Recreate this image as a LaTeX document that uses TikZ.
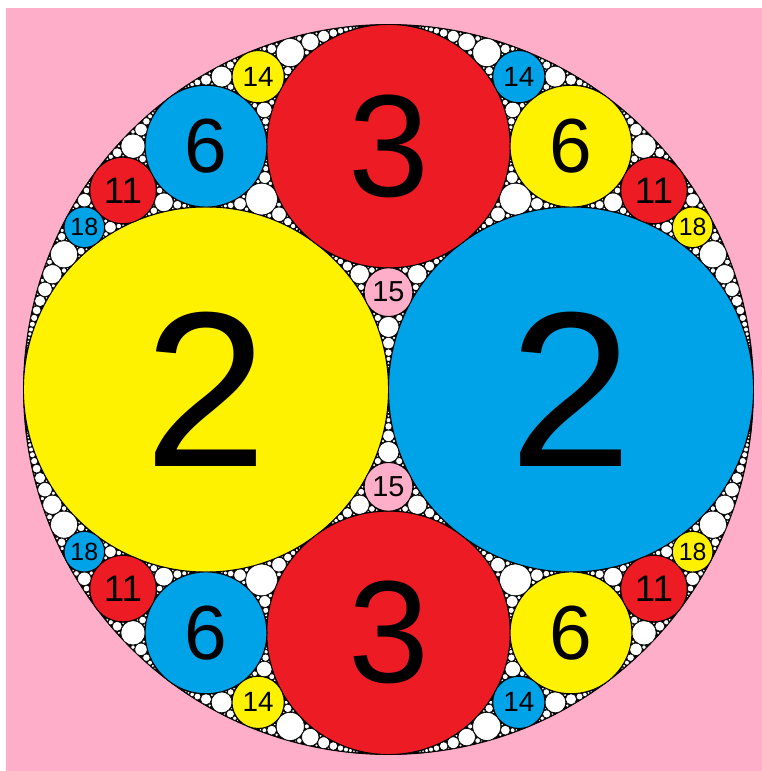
\documentclass[tikz,border=0pt]{standalone}
\usepackage{fontspec}
\setmainfont{Liberation Sans}
\usepackage{tikz}
\definecolor{paintred}{HTML}{ED1C24}
\definecolor{paintyellow}{HTML}{FFF200}
\definecolor{paintblue}{HTML}{00A2E8}
\definecolor{paintpink}{HTML}{FFAEC9}
\tikzset{
  gap/.style={fill=white,draw=black,line width=0.6bp},
  ring/.style={draw=black,line width=0.9bp},
  num/.style={inner sep=0pt,text=black}
}
\def\R{365}
\def\kmax{300}
% circles are kept as k,k*x,k*y (all integers here)
\def\apsum#1,#2,#3;#4,#5,#6;#7,#8,#9;{%
  \edef\ask{\the\numexpr(#1)+(#4)+(#7)\relax}%
  \edef\asx{\the\numexpr(#2)+(#5)+(#8)\relax}%
  \edef\asy{\the\numexpr(#3)+(#6)+(#9)\relax}}
\def\apnew#1,#2,#3;{%
  \edef\ank{\the\numexpr2*\ask-(#1)\relax}%
  \edef\anx{\the\numexpr2*\asx-(#2)\relax}%
  \edef\any{\the\numexpr2*\asy-(#3)\relax}}
\newcommand{\gasket}[4]{%
  \apsum#1;#2;#3;%
  \apnew#4;%
  \ifnum\ank>\kmax\else
    \filldraw[gap] ({\anx/\ank*\R},{\any/\ank*\R}) circle ({\R/\ank});
    \edef\apc{\ank,\anx,\any}%
    \edef\apnext{\noexpand\gasket{#1}{#2}{\apc}{#3}%
      \noexpand\gasket{#1}{#3}{\apc}{#2}%
      \noexpand\gasket{#2}{#3}{\apc}{#1}}%
    \apnext
  \fi}
\newcommand{\disc}[6]{%
  \filldraw[ring,fill=#4] ({#2/#1*\R},{#3/#1*\R}) circle ({\R/#1});
  \node[num,font=\fontsize{#5}{#5}\selectfont] (#6) at ({#2/#1*\R},{#3/#1*\R}) {#1};}

\begin{document}
\begin{tikzpicture}[x=1bp,y=1bp]
\useasboundingbox (-388.5,-381.5) rectangle (373.5,389.5);
\fill[white] (-388.5,-381.5) rectangle (373.5,389.5);
\fill[paintpink] (-382.5,-381.5) rectangle (373.5,381.5);
\filldraw[ring,fill=black] (0,0) circle (\R);
% the white packing
\gasket{-1,0,0}{2,-1,0}{2,1,0}{3,0,2}
\gasket{-1,0,0}{2,-1,0}{3,0,2}{2,1,0}
\gasket{-1,0,0}{2,1,0}{3,0,2}{2,-1,0}
\gasket{2,-1,0}{2,1,0}{3,0,2}{-1,0,0}
% coloured circles
\disc{2}{-1}{0}{paintyellow}{222}{twoL}
\disc{2}{1}{0}{paintblue}{222}{twoR}
\disc{3}{0}{2}{paintred}{146}{threeT}
\disc{3}{0}{-2}{paintred}{146}{threeB}
\disc{6}{-3}{4}{paintblue}{77}{sixTL}
\disc{6}{3}{4}{paintyellow}{77}{sixTR}
\disc{6}{-3}{-4}{paintblue}{77}{sixBL}
\disc{6}{3}{-4}{paintyellow}{77}{sixBR}
\disc{11}{-8}{6}{paintred}{37}{elevenTL}
\disc{11}{8}{6}{paintred}{37}{elevenTR}
\disc{11}{-8}{-6}{paintred}{37}{elevenBL}
\disc{11}{8}{-6}{paintred}{37}{elevenBR}
\disc{14}{-5}{12}{paintyellow}{28}{fourteenTL}
\disc{14}{5}{12}{paintblue}{28}{fourteenTR}
\disc{14}{-5}{-12}{paintyellow}{28}{fourteenBL}
\disc{14}{5}{-12}{paintblue}{28}{fourteenBR}
\disc{15}{0}{4}{paintpink}{29}{fifteenT}
\disc{15}{0}{-4}{paintpink}{29}{fifteenB}
\disc{18}{-15}{8}{paintblue}{25}{eighteenTL}
\disc{18}{15}{8}{paintyellow}{25}{eighteenTR}
\disc{18}{-15}{-8}{paintblue}{25}{eighteenBL}
\disc{18}{15}{-8}{paintyellow}{25}{eighteenBR}
\end{tikzpicture}
\end{document}
